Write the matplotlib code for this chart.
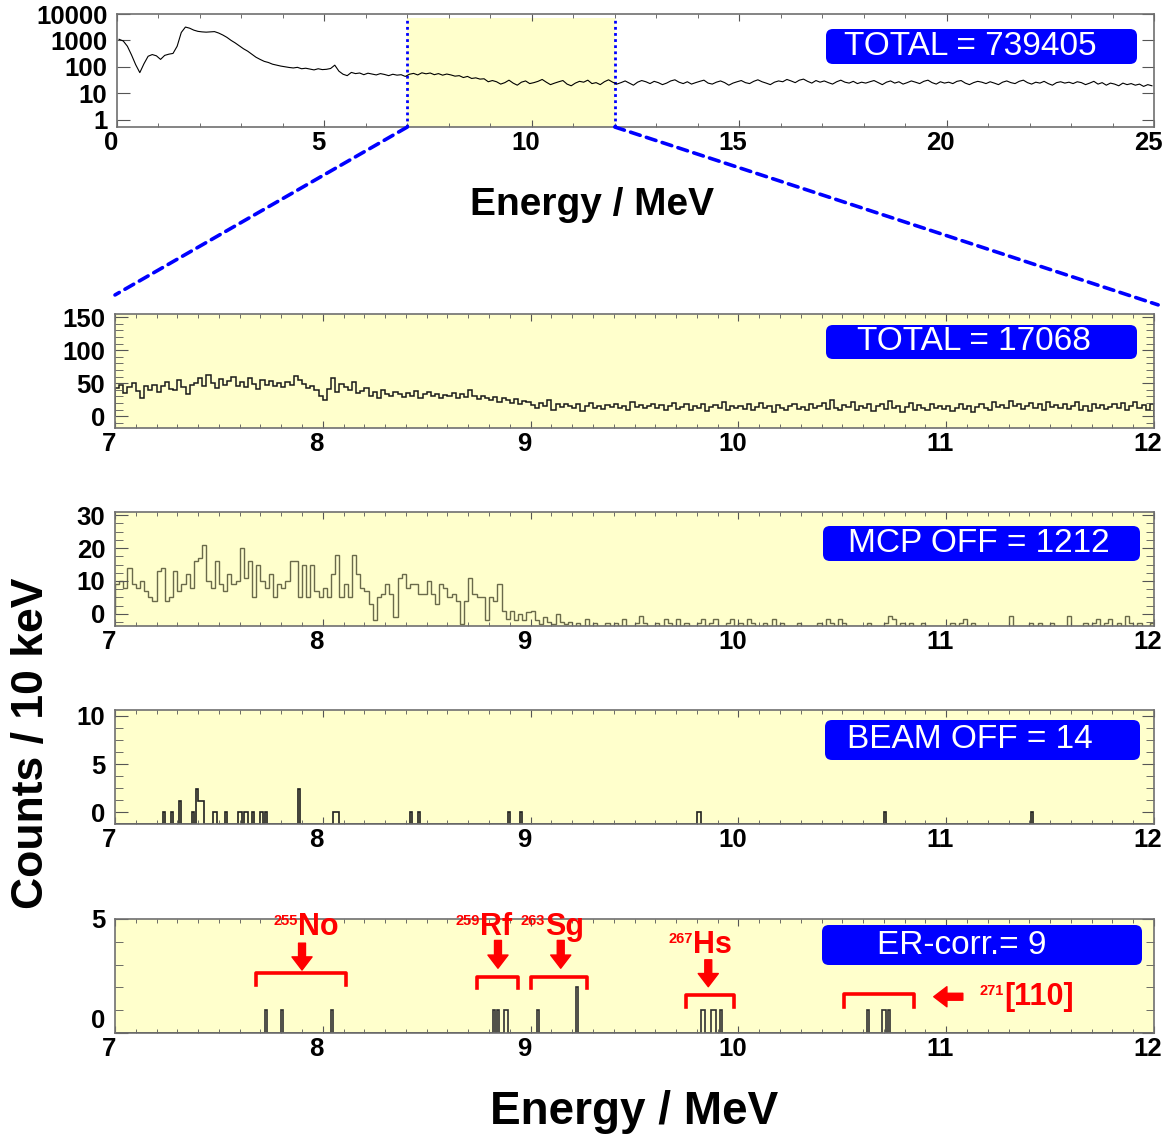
import numpy as np
import matplotlib
matplotlib.use('Agg')
import matplotlib.pyplot as plt
from matplotlib import ticker
from matplotlib.transforms import ScaledTranslation
from matplotlib.patches import FancyBboxPatch, ConnectionPatch

plt.rcParams['font.family'] = ['Liberation Sans', 'DejaVu Sans']
plt.rcParams['font.weight'] = 'bold'

W, H = 1166, 1140
YELLOW = '#ffffcc'
BLUE = '#0000ff'

# ---- data ----
# full spectrum 0-25 MeV, 0.1 MeV steps, counts / 10 keV
full_spec = [
    1100, 950, 600, 280, 120, 60, 130, 250, 290, 260,
    190, 270, 300, 320, 600, 2000, 3200, 2900, 2450, 2200,
    2100, 2050, 2100, 2150, 1900, 1600, 1300, 1000, 800, 620,
    480, 390, 300, 230, 190, 160, 145, 125, 115, 106,
    100, 94, 90, 95, 84, 88, 82, 76, 84, 78,
    80, 86, 115, 68, 52, 46, 61, 55, 58, 50,
    57, 53, 49, 55, 51, 46, 52, 48, 50, 43,
    52, 56, 49, 59, 54, 58, 50, 55, 48, 53,
    49, 44, 46, 39, 43, 36, 38, 34, 35, 27,
    30, 27, 22, 25, 31, 24, 20, 26, 29, 23,
    25, 28, 33, 26, 21, 24, 27, 30, 22, 19,
    24, 28, 26, 31, 23, 25, 21, 27, 32, 26,
    22, 25, 29, 24, 20, 26, 30, 27, 23, 28,
    25, 21, 24, 29, 32, 26, 23, 27, 22, 25,
    28, 31, 24, 22, 26, 29, 25, 20, 24, 27,
    30, 25, 23, 28, 32, 27, 24, 21, 26, 29,
    27, 33, 29, 25, 31, 34, 28, 24, 30, 26,
    29, 25, 22, 27, 31, 26, 24, 28, 23, 26,
    24, 27, 30, 25, 21, 26, 29, 24, 27, 22,
    25, 29, 26, 23, 28, 31, 25, 22, 27, 24,
    26, 23, 28, 30, 24, 21, 25, 28, 26, 23,
    27, 24, 21, 26, 29, 25, 23, 28, 31, 25,
    22, 26, 24, 28, 23, 20, 25, 27, 24, 26,
    23, 27, 25, 21, 24, 28, 22, 25, 20, 24,
    22, 19, 24, 21, 23, 20, 22, 18, 21, 19,
]

# 7-12 MeV panels, 20 keV steps, in the units of the printed axes
total_zoom = [
    42, 47, 35, 44, 50, 38, 28, 45, 40, 48,
    36, 46, 52, 41, 39, 55, 44, 33, 48, 51,
    58, 45, 62, 50, 43, 57, 48, 54, 60, 46,
    52, 44, 58, 49, 41, 55, 47, 53, 45, 50,
    44, 52, 47, 61, 55, 49, 42, 46, 39, 30,
    25, 41, 58, 36, 49, 44, 40, 52, 35, 38,
    42, 31, 36, 28, 40, 34, 30, 37, 33, 29,
    35, 31, 38, 27, 33, 36, 30, 34, 28, 32,
    30, 35, 27, 33, 29, 40, 31, 26, 30, 27,
    25, 29, 22, 27, 24, 20, 26, 18, 23, 21,
    17, 12, 20, 15, 24, 10, 18, 14, 19, 16,
    13, 18, 8, 15, 20, 12, 16, 11, 17, 14,
    19, 13, 16, 10, 22, 14, 17, 12, 15, 18,
    12, 17, 9, 15, 20, 11, 14, 18, 10, 16,
    13, 19, 8, 14, 17, 12, 22, 10, 15, 13,
    16, 11, 18, 9, 14, 20, 12, 15, 7, 17,
    13, 10, 16, 19, 11, 14, 9, 18, 12, 15,
    20, 11, 24, 13, 9, 17, 14, 21, 10, 16,
    12, 18, 8, 15, 19, 11, 23, 13, 16, 6,
    14, 20, 10, 17, 12, 9, 18, 13, 15, 11,
    16, 8, 13, 19, 11, 15, 7, 14, 18, 12,
    10, 21, 14, 17, 12, 23, 15, 19, 11, 16,
    20, 13, 18, 9, 22, 14, 17, 12, 19, 11,
    15, 21, 10, 16, 8, 19, 13, 17, 11, 14,
    18, 12, 20, 9, 16, 22, 13, 17, 10, 19,
]

mcp_off = [
    9, 10, 8, 14, 9, 8, 10, 7, 5, 4,
    13, 14, 4, 5, 13, 7, 9, 12, 8, 16,
    17, 21, 10, 8, 16, 9, 7, 12, 9, 10,
    20, 11, 16, 5, 15, 10, 8, 12, 5, 9,
    8, 10, 16, 16, 5, 15, 5, 15, 7, 5,
    8, 5, 12, 18, 5, 9, 5, 18, 12, 8,
    7, 3, -2, 5, 6, 9, 6, -1, 11, 12,
    8, 9, 9, 6, 6, 10, 6, 3, 9, 8,
    5, 6, 4, -3, 4, 11, 6, 5, 5, -2,
    5, 4, 9, 1, -1.5, 1, -2, 0, -2, 0.5,
    1, -2, -3, -1, -2.5, -3, 0, -2.5, -3, -2.5,
    -3.7, -2.7, -3.7, -1.7, -3.7, -2.7, -3.7, -3.7, -2.7, -3.7,
    -2.7, -3.7, -1.7, -3.7, -3.7, -2.7, -0.7, -2.7, -3.7, -3.7,
    -2.7, -3.7, -1.7, -2.7, -3.7, -1.7, -3.7, -2.7, -3.7, -3.7,
    -2.7, -1.7, -3.7, -2.7, -1.7, -3.7, -3.7, -2.7, -1.7, -3.7,
    -2.7, -3.7, -1.7, -2.7, -3.7, -3.7, -2.7, -3.7, -1.7, -3.7,
    -2.7, -3.7, -3.7, -3.7, -2.7, -3.7, -3.7, -3.7, -3.7, -2.7,
    -3.7, -1.7, -2.7, -3.7, -1.7, -2.7, -3.7, -3.7, -3.7, -3.7,
    -3.7, -2.7, -3.7, -3.7, -3.7, -2.7, -0.7, -1.7, -3.7, -2.7,
    -3.7, -2.7, -3.7, -3.7, -2.7, -3.7, -3.7, -3.7, -3.7, -3.7,
    -3.7, -2.7, -3.7, -2.7, -1.7, -3.7, -2.7, -3.7, -3.7, -3.7,
    -3.7, -3.7, -3.7, -3.7, -3.7, -0.7, -3.7, -3.7, -3.7, -3.7,
    -2.7, -3.7, -2.7, -3.7, -3.7, -2.7, -3.7, -3.7, -3.7, -0.7,
    -3.7, -3.7, -3.7, -2.7, -3.7, -2.7, -1.7, -3.7, -2.7, -1.7,
    -3.7, -2.7, -3.7, -0.7, -2.7, -3.7, -2.7, -3.7, -3.7, -2.7,
]

# single events, 10 keV bins
beam_off_e = [7.23, 7.27, 7.31, 7.37, 7.39, 7.40, 7.41, 7.42, 7.47, 7.48,
              7.53, 7.59, 7.60, 7.62, 7.63, 7.66, 7.70, 7.72, 7.88, 8.05,
              8.06, 8.07, 8.42, 8.46, 8.89, 8.95, 9.80, 9.81, 10.70, 11.41]
beam_off_h = [0, 0, 1.2, 0, 2.4, 1.2, 1.2, 1.2, 0, 0,
              0, 0, 0, 0, 0, 0, 0, 0, 2.4, 0,
              0, 0, 0, 0, 0, 0, 0, 0, 0, 0]

er_e = [7.72, 7.80, 8.04, 8.82, 8.84, 8.87, 8.88, 9.03, 9.22,
        9.82, 9.83, 9.87, 9.88, 9.91, 10.62, 10.69, 10.70, 10.72]
er_n = [1, 1, 1, 1, 1, 1, 1, 1, 2,
        1, 1, 1, 1, 1, 1, 1, 1, 1]

# nuclide marks: mass, name, x of text split, bracket x0, x1, arrow x
nuclides = [
    ('255', 'No', 7.88, 7.68, 8.11, 7.90),
    ('259', 'Rf', 8.755, 8.74, 8.94, 8.843),
    ('263', 'Sg', 9.07, 9.00, 9.27, 9.145),
    ('267', 'Hs', 9.78, 9.75, 9.977, 9.855),
]

fig = plt.figure(figsize=(W / 100, H / 100), dpi=100)
shift = ScaledTranslation(-6 / 100, 0, fig.dpi_scale_trans)


def add_ax(left, top, right, bottom):
    return fig.add_axes([left / W, 1 - bottom / H, (right - left) / W, (bottom - top) / H])


def style(ax):
    for s in ax.spines.values():
        s.set_color('#707070')
        s.set_linewidth(1.2)
    ax.tick_params(which='both', direction='in', top=True, right=True,
                   colors='#555555', labelcolor='black', labelsize=18.5)
    ax.tick_params(axis='x', which='major', length=5, pad=3)
    ax.tick_params(axis='x', which='minor', length=3)
    ax.tick_params(axis='y', which='major', length=9, pad=7)
    ax.tick_params(axis='y', which='minor', length=6)
    for lbl in ax.get_xticklabels():
        lbl.set_transform(lbl.get_transform() + shift)


def tag(text, x0, y0, x1, y1, tx):
    box = FancyBboxPatch((x0 / W, 1 - y1 / H), (x1 - x0) / W, (y1 - y0) / H,
                         boxstyle='round,pad=0,rounding_size=0.006',
                         transform=fig.transFigure, fc=BLUE, ec='none')
    fig.add_artist(box)
    fig.text(tx / W, 1 - (y0 + y1) / 2 / H, text, color='white', fontsize=24,
             fontweight='normal', ha='center', va='center')


# ---- top panel: full spectrum ----
ax0 = add_ax(117, 14, 1154, 127)
ylo0 = 0.52
centers = np.linspace(0, 25, len(full_spec) + 1)[:-1] + 0.05
ax0.axvspan(7, 12, ymin=0, ymax=0.965, color=YELLOW, lw=0)
ax0.vlines([7, 12], ylo0, 6800, colors=BLUE, linestyles=(0, (1, 1.2)), lw=2)
ax0.plot(centers, full_spec, color='black', lw=0.8)
ax0.set_yscale('log')
ax0.set_xlim(0, 25)
ax0.set_ylim(ylo0, 1e4)
ax0.xaxis.set_major_locator(ticker.MultipleLocator(5))
ax0.xaxis.set_minor_locator(ticker.MultipleLocator(1))
ax0.yaxis.set_major_locator(ticker.FixedLocator([1, 10, 100, 1000, 10000]))
ax0.yaxis.set_minor_locator(ticker.LogLocator(subs=np.arange(2, 10)))
ax0.yaxis.set_major_formatter(ticker.FuncFormatter(lambda v, p: f'{v:g}'))
ax0.yaxis.set_minor_formatter(ticker.NullFormatter())
style(ax0)

# ---- zoomed panels ----
panels = [(314, 428), (512, 626), (710, 824), (919, 1033)]
axes = [add_ax(115, t, 1154, b) for t, b in panels]
for ax in axes:
    ax.set_facecolor(YELLOW)
    ax.set_xlim(7, 12)
    ax.xaxis.set_major_locator(ticker.MultipleLocator(1))
    ax.xaxis.set_minor_locator(ticker.MultipleLocator(0.1))
    style(ax)

e20 = np.linspace(7, 12, len(total_zoom) + 1)
e10 = np.linspace(7, 12, 501)

ax2 = axes[0]
ax2.set_ylim(-18, 155)
ax2.stairs(total_zoom, e20, color='#1a1a1a', lw=1.1)
ax2.yaxis.set_major_locator(ticker.MultipleLocator(50))
ax2.yaxis.set_minor_locator(ticker.MultipleLocator(10))

ax3 = axes[1]
ax3.set_ylim(-3.7, 31)
ax3.stairs(mcp_off, np.linspace(7, 12, len(mcp_off) + 1), color='#6a6a4a', lw=1.0)
ax3.yaxis.set_major_locator(ticker.MultipleLocator(10))
ax3.yaxis.set_minor_locator(ticker.MultipleLocator(2.5))

ax4 = axes[2]
ylo4 = -1.2
ax4.set_ylim(ylo4, 10.6)
bo = np.full(500, ylo4)
bo[np.round((np.array(beam_off_e) - 7) / 0.01).astype(int)] = beam_off_h
ax4.stairs(bo, e10, baseline=ylo4, color='#202020', lw=1.2)
ax4.yaxis.set_major_locator(ticker.MultipleLocator(5))
ax4.yaxis.set_minor_locator(ticker.MultipleLocator(1.25))

ax5 = axes[3]
ax5.set_ylim(0, 5)
er = np.zeros(500)
er[np.round((np.array(er_e) - 7) / 0.01).astype(int)] = er_n
ax5.stairs(er, e10, baseline=0, color='#303030', lw=1.2)
ax5.yaxis.set_major_locator(ticker.FixedLocator([0, 5]))
ax5.yaxis.set_minor_locator(ticker.MultipleLocator(1))
ax5.yaxis.get_major_ticks()[0].label1.set_va('bottom')

# ---- red annotations ----
arrow = 'simple,head_width=1.45,head_length=0.95,tail_width=0.5'
for i, (mass, name, xs, bx0, bx1, xa) in enumerate(nuclides):
    if i < 3:
        ytop, yleg = (2.65, 2.10) if i == 0 else (2.44, 1.96)
        ya0, ya1 = (3.94, 2.76) if i == 0 else (4.06, 2.84)
        yb_main, yb_sup = 4.31, 4.75
    else:
        ytop, yleg = 1.66, 1.15
        ya0, ya1 = 3.21, 2.03
        yb_main, yb_sup = 3.5, 3.94
    ax5.plot([bx0, bx0, bx1, bx1], [yleg, ytop, ytop, yleg], color='red',
             lw=2.6, clip_on=False)
    ax5.annotate('', xy=(xa, ya1), xytext=(xa, ya0),
                 arrowprops=dict(arrowstyle=arrow, color='red', mutation_scale=10,
                                 shrinkA=0, shrinkB=0))
    ax5.text(xs, yb_sup, mass, color='red', fontsize=10.5, ha='right', va='baseline')
    ax5.text(xs, yb_main, name, color='red', fontsize=22, ha='left', va='baseline')

ax5.plot([10.507, 10.507, 10.845, 10.845], [1.15, 1.69, 1.69, 1.15], color='red', lw=2.6)
ax5.annotate('', xy=(10.94, 1.59), xytext=(11.08, 1.59),
             arrowprops=dict(arrowstyle=arrow, color='red', mutation_scale=10,
                             shrinkA=0, shrinkB=0))
ax5.text(11.278, 1.66, '271', color='red', fontsize=10.5, ha='right', va='baseline')
ax5.text(11.278, 1.22, '[110]', color='red', fontsize=22, ha='left', va='baseline')

# ---- blue labels ----
tag('TOTAL = 739405', 826, 29, 1137, 64, 970)
tag('TOTAL = 17068', 826, 325, 1137, 359, 974)
tag('MCP OFF = 1212', 823, 526, 1140, 561, 979)
tag('BEAM OFF = 14', 825, 720, 1140, 760, 970)
tag('ER-corr.= 9', 822, 925, 1142, 965, 962)

# ---- zoom connectors ----
for xa, xyb in [(7, (0.0, 1.167)), (12, (1.004, 1.08))]:
    con = ConnectionPatch(xyA=(xa, ylo0), coordsA=ax0.transData,
                          xyB=xyb, coordsB=ax2.transAxes,
                          color=BLUE, lw=2.6, linestyle=(0, (2.8, 1.8)))
    fig.add_artist(con)

fig.text(592 / W, 1 - 205 / H, 'Energy / MeV', fontsize=28, ha='center', va='center')
fig.text(634 / W, 1 - 1112 / H, 'Energy / MeV', fontsize=33, ha='center', va='center')
fig.text(32 / W, 1 - 743 / H, 'Counts / 10 keV', fontsize=32, rotation=90,
         ha='center', va='center')

fig.savefig('out.png', dpi=100)
